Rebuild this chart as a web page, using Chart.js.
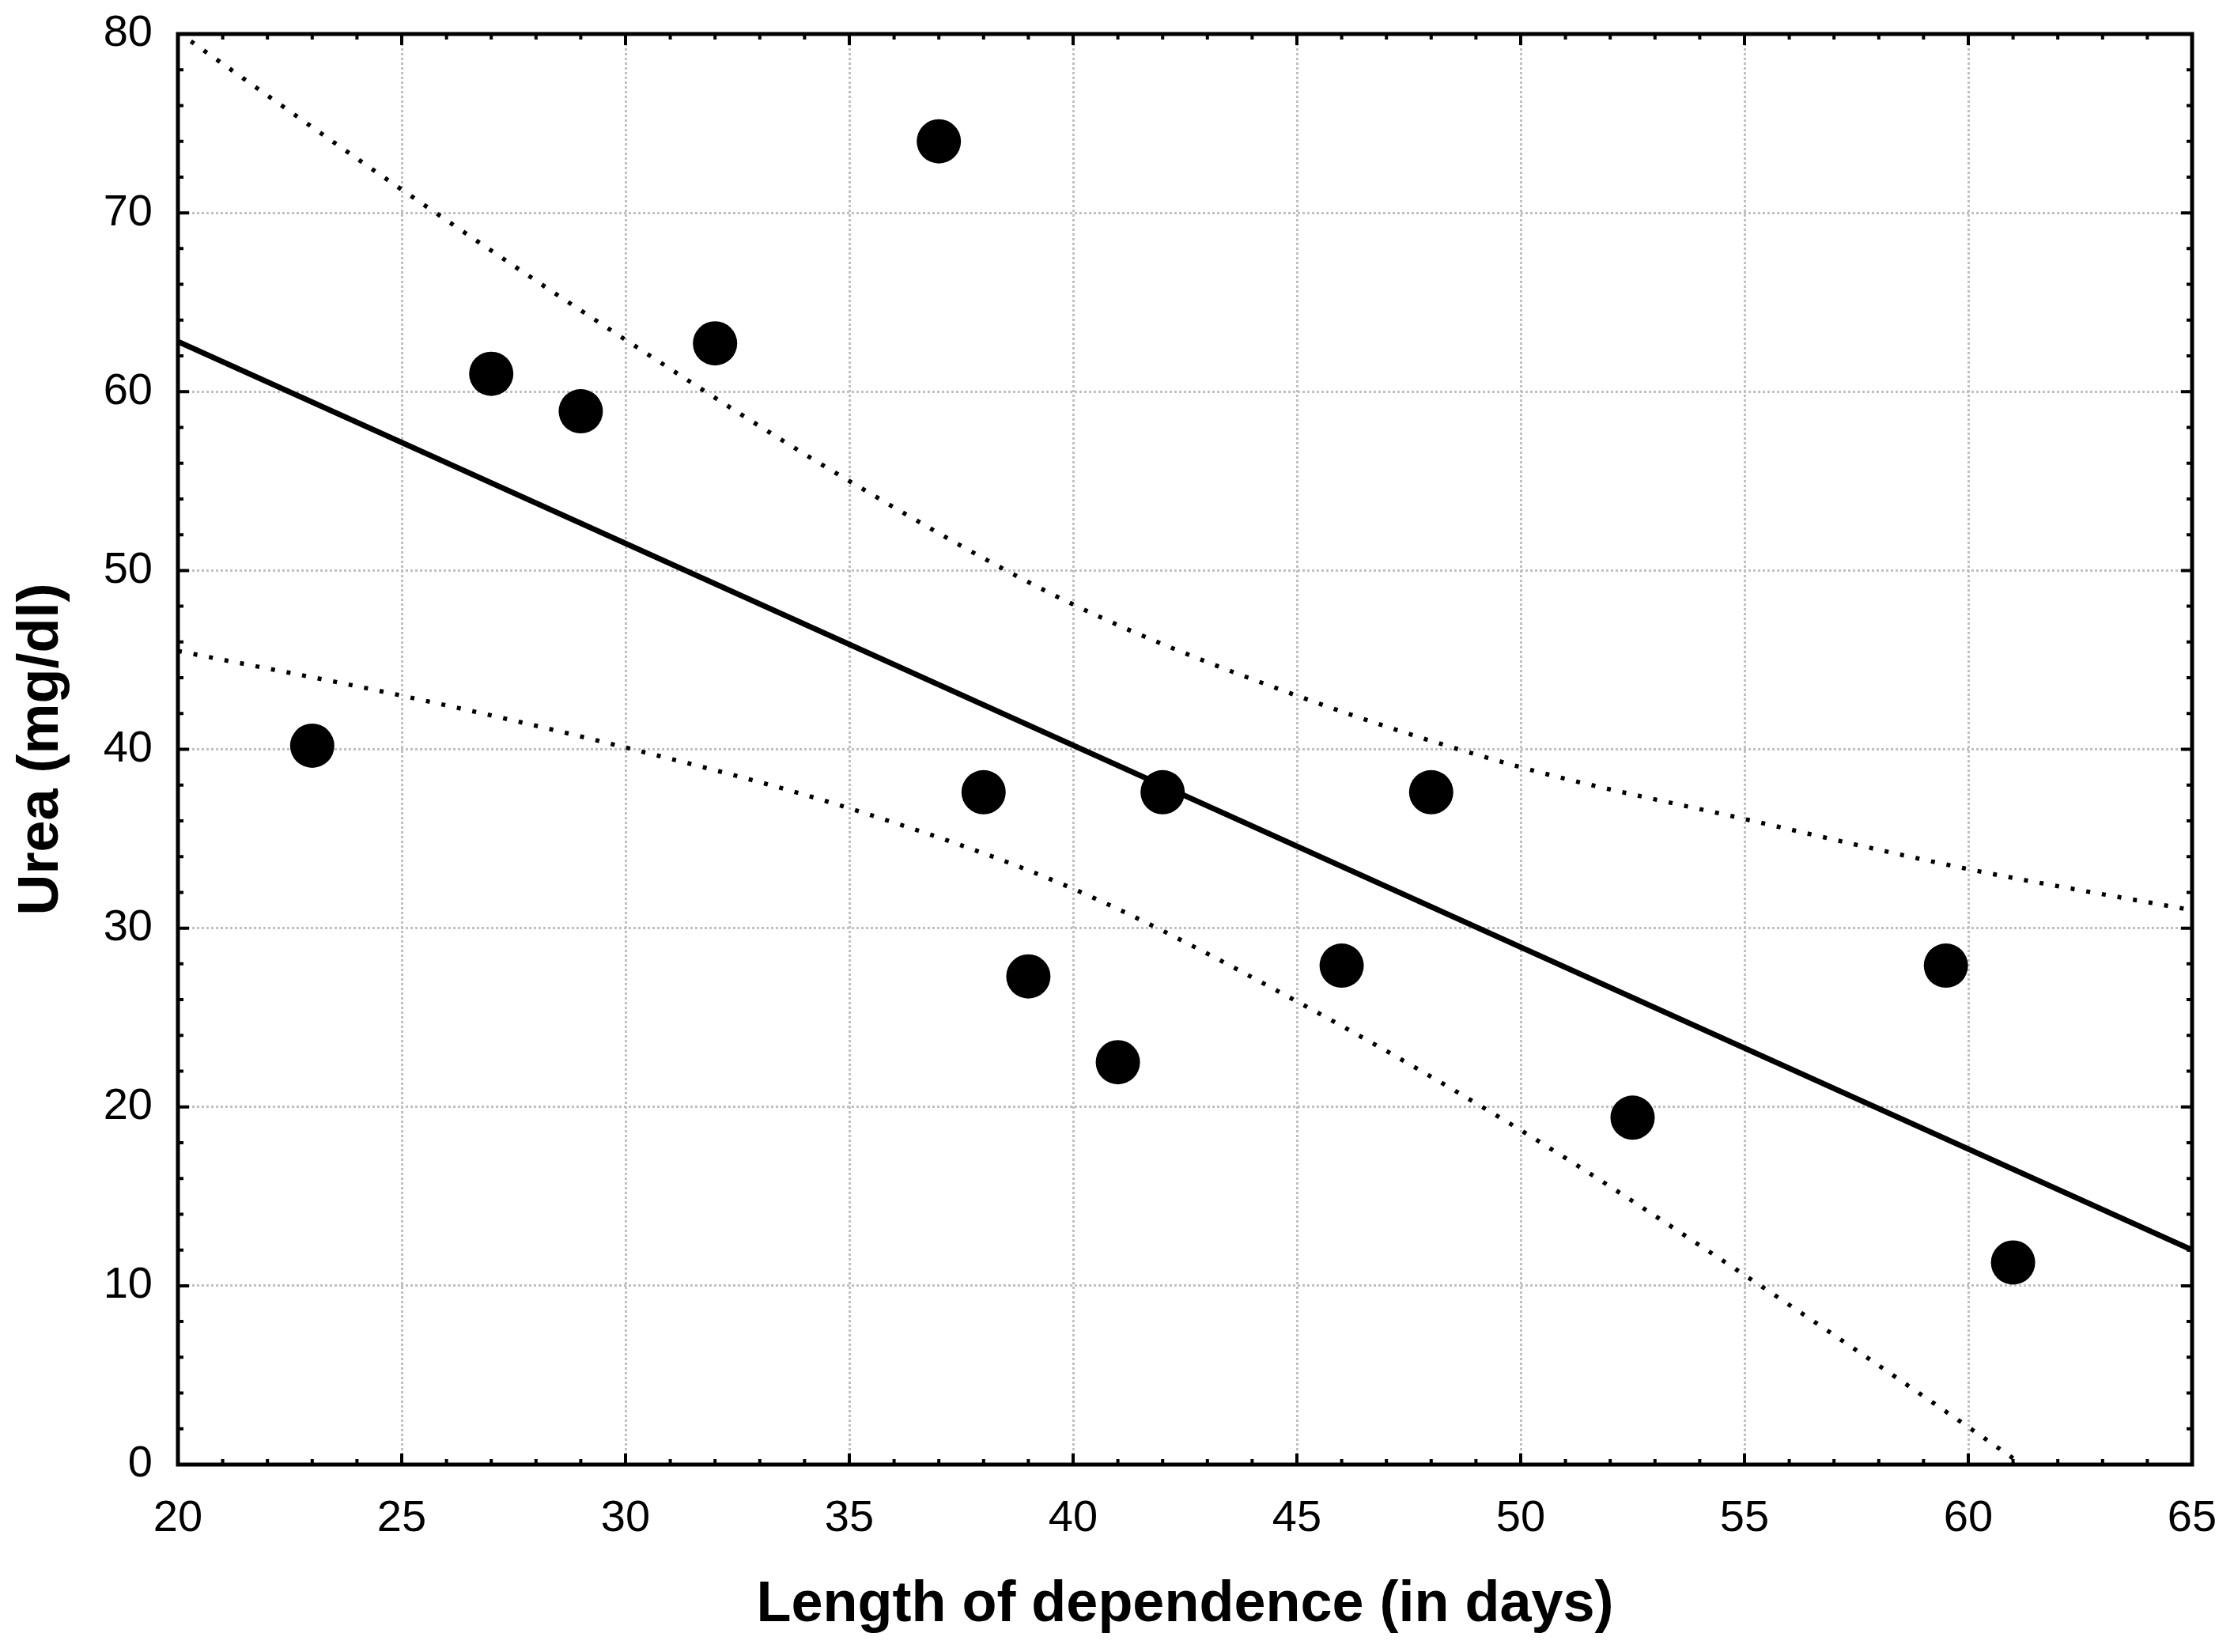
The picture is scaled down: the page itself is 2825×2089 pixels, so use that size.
<!DOCTYPE html>
<html>
<head>
<meta charset="utf-8">
<script src="https://cdn.jsdelivr.net/npm/chart.js@4/dist/chart.umd.min.js"></script>
<style>
  html, body { margin: 0; padding: 0; background: #fff; }
  #wrap { width: 2825px; height: 2089px; position: relative; }
</style>
</head>
<body>
<div id="wrap"><canvas id="chart"></canvas></div>
<script>
// --- DANE ---
const days = [23, 27, 29, 32, 37, 38, 39, 41, 42, 46, 48, 52.5, 59.5, 61];
const urea = [40.2, 61.0, 58.9, 62.7, 74.0, 37.6, 27.3, 22.5, 37.6, 27.9, 37.6, 19.4, 27.9, 11.3];

// linia regresji (końce na krawędziach osi)
const fitX = [20, 65];
const fitY = [62.8, 12.0];

// przedziały ufności (kropkowane)
const upperX = [20, 25, 30, 35, 40, 45, 50, 55, 60, 65];
const upperY = [80.1, 71.3, 62.9, 55.0, 48.1, 43.0, 39.0, 36.1, 33.3, 31.0];
const lowerX = [20, 25, 30, 35, 40, 45, 50, 55, 60, 61.2];
const lowerY = [45.5, 43.0, 40.1, 36.7, 32.2, 25.9, 18.7, 10.6, 2.1, 0];

// tick labels
const xTicks = [20, 25, 30, 35, 40, 45, 50, 55, 60, 65];
const yTicks = [0, 10, 20, 30, 40, 50, 60, 70, 80];

const xTitle = 'Length of dependence (in days)';
const yTitle = 'Urea (mg/dl)';

const toPts = (xs, ys) => xs.map((v, i) => ({ x: v, y: ys[i] }));

// ramka + wewnętrzne ticki na wszystkich czterech bokach
const frameTicks = {
    id: 'frameTicks',
    afterDraw(chart) {
        const { ctx, chartArea: a, scales: { x, y } } = chart;
        ctx.save();
        ctx.strokeStyle = '#000';
        ctx.lineWidth = 4;
        ctx.beginPath();
        for (let v = x.min; v <= x.max; v += 1) {
            const px = x.getPixelForValue(v);
            const len = v % 5 === 0 ? 14 : 7;
            ctx.moveTo(px, a.bottom); ctx.lineTo(px, a.bottom - len);
            ctx.moveTo(px, a.top); ctx.lineTo(px, a.top + len);
        }
        for (let v = y.min; v <= y.max; v += 2) {
            const py = y.getPixelForValue(v);
            const len = v % 10 === 0 ? 14 : 7;
            ctx.moveTo(a.left, py); ctx.lineTo(a.left + len, py);
            ctx.moveTo(a.right, py); ctx.lineTo(a.right - len, py);
        }
        ctx.stroke();
        ctx.lineWidth = 5;
        ctx.strokeRect(a.left, a.top, a.right - a.left, a.bottom - a.top);
        ctx.restore();
    }
};

const tickFont = { family: 'Liberation Sans, Arial, sans-serif', size: 56 };
const titleFont = { family: 'Liberation Sans, Arial, sans-serif', size: 72, weight: 'bold' };

const bandStyle = {
    showLine: true,
    borderColor: '#000',
    borderWidth: 5.5,
    borderDash: [5, 15],
    pointRadius: 0,
    cubicInterpolationMode: 'monotone',
    order: 3
};

new Chart(document.getElementById('chart'), {
    type: 'scatter',
    data: {
        datasets: [
            Object.assign({ label: 'upper', data: toPts(upperX, upperY) }, bandStyle),
            Object.assign({ label: 'lower', data: toPts(lowerX, lowerY) }, bandStyle),
            {
                label: 'fit',
                data: toPts(fitX, fitY),
                showLine: true,
                borderColor: '#000',
                borderWidth: 7,
                pointRadius: 0,
                order: 2
            },
            {
                label: 'Urea',
                data: toPts(days, urea),
                showLine: false,
                pointRadius: 28,
                pointBackgroundColor: '#000',
                pointBorderWidth: 0,
                order: 1
            }
        ]
    },
    options: {
        responsive: true,
        maintainAspectRatio: false,
        animation: false,
        devicePixelRatio: 1,
        layout: { padding: { top: 43, right: 53, left: 0, bottom: 0 } },
        plugins: {
            legend: { display: false },
            tooltip: { enabled: false }
        },
        scales: {
            x: {
                type: 'linear',
                min: 20,
                max: 65,
                afterBuildTicks: s => { s.ticks = xTicks.map(v => ({ value: v })); },
                // stała wysokość i bez dodatkowych marginesów od etykiet
                afterFit: s => { s.height = 237; s.paddingLeft = 0; s.paddingRight = 0; },
                ticks: { font: tickFont, color: '#000', padding: 35, maxRotation: 0 },
                grid: { color: '#c0c0c0', lineWidth: 3, drawTicks: false },
                border: { display: false, dash: [3, 3] },
                title: { display: true, text: xTitle, font: titleFont, color: '#000', padding: { top: 0, bottom: 16 } }
            },
            y: {
                type: 'linear',
                min: 0,
                max: 80,
                afterBuildTicks: s => { s.ticks = yTicks.map(v => ({ value: v })); },
                afterFit: s => { s.width = 225; s.paddingTop = 0; s.paddingBottom = 0; },
                ticks: { font: tickFont, color: '#000', padding: 32 },
                grid: { color: '#c0c0c0', lineWidth: 3, drawTicks: false },
                border: { display: false, dash: [3, 3] },
                title: { display: true, text: yTitle, font: titleFont, color: '#000', padding: { top: 10, bottom: 0 } }
            }
        }
    },
    plugins: [frameTicks]
});
</script>
</body>
</html>
